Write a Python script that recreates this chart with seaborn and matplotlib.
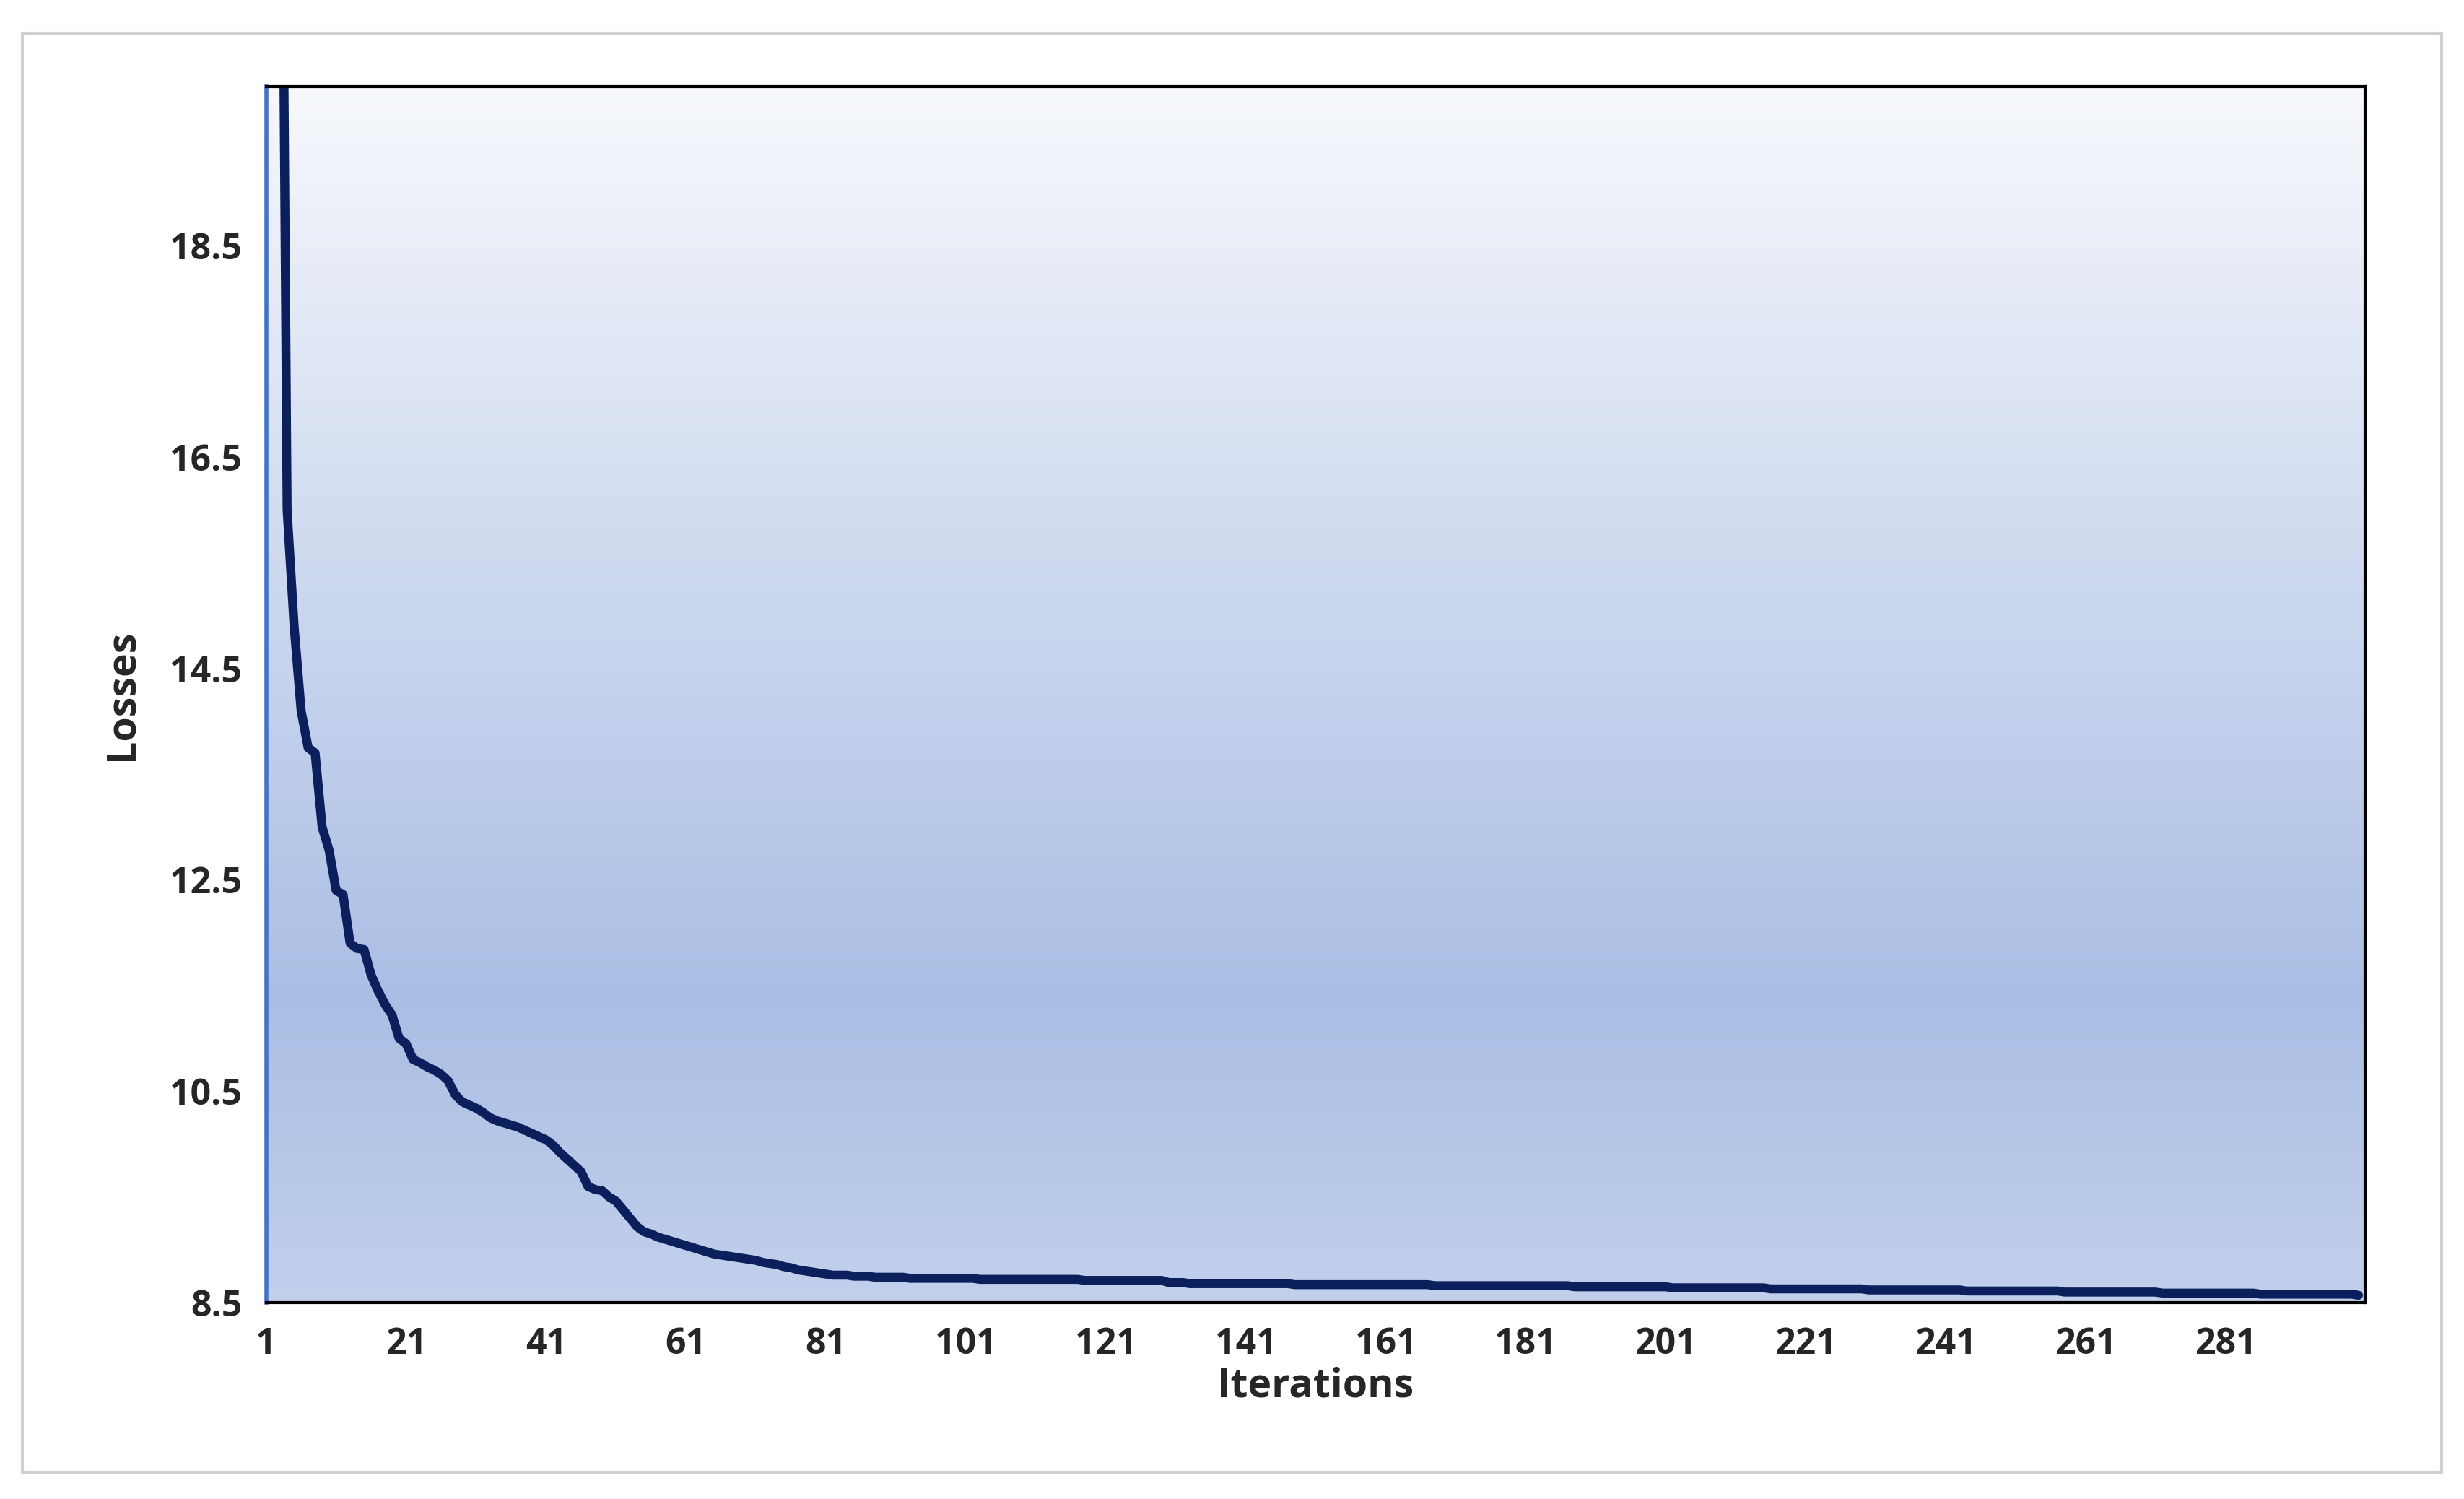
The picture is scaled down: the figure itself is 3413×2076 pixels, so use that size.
import numpy as np
import pandas as pd
import matplotlib
matplotlib.use("Agg")
import matplotlib.pyplot as plt
import seaborn as sns
from matplotlib.colors import LinearSegmentedColormap
from matplotlib.patches import Rectangle

head_losses = [60, 40, 25, 16.0, 14.9, 14.1, 13.75, 13.7, 13.0, 12.78, 12.4, 12.36, 11.9, 11.85,
               11.84, 11.6, 11.45, 11.32, 11.22, 11.0, 10.95, 10.8, 10.77, 10.73, 10.7, 10.66,
               10.6, 10.47, 10.4, 10.37, 10.34, 10.3, 10.25, 10.22, 10.2, 10.18, 10.16, 10.13,
               10.1, 10.07, 10.04, 9.99, 9.92, 9.86, 9.8, 9.74, 9.6, 9.57, 9.56, 9.5, 9.46,
               9.38, 9.3, 9.22, 9.17, 9.15, 9.12, 9.1, 9.08, 9.06, 9.04, 9.02, 9.0, 8.98, 8.96,
               8.95, 8.94, 8.93, 8.92, 8.91, 8.9, 8.88, 8.87, 8.86, 8.84, 8.83, 8.81, 8.80,
               8.79, 8.78, 8.77]
tail_values = [8.76, 8.75, 8.74, 8.73, 8.72, 8.71, 8.69, 8.68, 8.67, 8.66, 8.65, 8.64, 8.63,
               8.62, 8.61, 8.60, 8.59, 8.58, 8.57]
tail_repeats = [3, 3, 5, 10, 15, 12, 3, 15, 20, 20, 14, 14, 14, 14, 14, 14, 14, 14, 1]
xtick_labels = list(range(1, 300, 20))
ytick_values = [8.5, 10.5, 12.5, 14.5, 16.5, 18.5]

losses = np.concatenate([head_losses, np.repeat(tail_values, tail_repeats)])
df = pd.DataFrame({"Iterations": np.arange(1, len(losses) + 1), "Losses": losses})

sns.set_style("white")
plt.rcParams['font.family'] = ['Open Sans', 'DejaVu Sans']
fig = plt.figure(figsize=(17.065, 10.38), dpi=200)
fig.patches.append(Rectangle((0.009, 0.018), 0.982, 0.96, transform=fig.transFigure,
                             fill=False, edgecolor="#d0d0d0", linewidth=1.5))
ax = fig.add_axes([0.108, 0.131, 0.852, 0.811])

xmin, xmax, ymin, ymax = 1, 301, 8.5, 20.0
cmap = LinearSegmentedColormap.from_list("bg", [(0, "#c2d0ec"), (0.25, "#aabee4"), (1, "#f6f8fc")])
grad = np.linspace(0, 1, 256).reshape(-1, 1)
ax.imshow(grad, cmap=cmap, origin="lower", aspect="auto",
          extent=[xmin, xmax, ymin, ymax], zorder=0)

sns.lineplot(data=df, x="Iterations", y="Losses", ax=ax, color="#0b1f5c", linewidth=4.5, zorder=2)
ax.set_xlim(xmin, xmax)
ax.set_ylim(ymin, ymax)
ax.set_xticks(xtick_labels)
ax.set_yticks(ytick_values)
ax.set_xticklabels([str(v) for v in xtick_labels])
ax.set_yticklabels([f"{v:.1f}" for v in ytick_values])
ax.tick_params(length=0, labelsize=18, pad=12)
for lab in ax.get_xticklabels() + ax.get_yticklabels():
    lab.set_fontweight("bold")
ax.set_xlabel("Iterations", fontsize=20, fontweight="bold", labelpad=2)
ax.set_ylabel("Losses", fontsize=20, fontweight="bold", labelpad=14)
for s in ["top", "right", "bottom"]:
    ax.spines[s].set_color("black")
    ax.spines[s].set_linewidth(1.5)
ax.spines["left"].set_color("#4472c4")
ax.spines["left"].set_linewidth(2)

fig.savefig("out.png", dpi=200)
